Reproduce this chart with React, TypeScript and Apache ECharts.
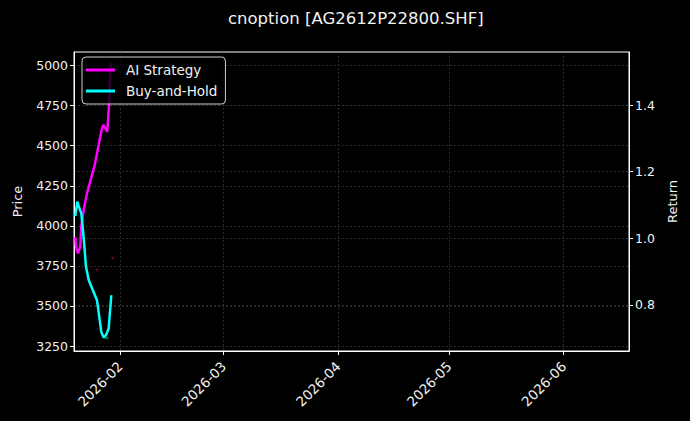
import React, { useEffect, useRef } from "react";
import * as echarts from "echarts";

const titleText = "cnoption [AG2612P22800.SHF]";

const aiDates = [
  "2026-01-19 21:50", "2026-01-20 02:30", "2026-01-20 15:30", "2026-01-21 06:00",
  "2026-01-21 12:45", "2026-01-22 04:20", "2026-01-23 02:00", "2026-01-25 04:00",
  "2026-01-26 05:45", "2026-01-26 22:30", "2026-01-27 11:30", "2026-01-28 13:40",
  "2026-01-29 02:40", "2026-01-29 11:45",
];
const aiValues = [1.004, 0.975, 0.955, 0.975, 1.035, 1.085, 1.135, 1.22, 1.281, 1.321, 1.341, 1.32, 1.416, 1.527];

const bhDates = [
  "2026-01-19 21:50", "2026-01-20 10:50", "2026-01-20 21:50", "2026-01-21 12:45",
  "2026-01-21 23:45", "2026-01-22 10:50", "2026-01-22 19:10", "2026-01-23 12:45",
  "2026-01-25 18:40", "2026-01-26 09:35", "2026-01-26 22:30", "2026-01-27 14:10",
  "2026-01-28 05:00", "2026-01-28 22:30", "2026-01-29 15:35",
];
const bhValues = [1.067, 1.11, 1.094, 1.075, 1.025, 0.965, 0.915, 0.875, 0.814, 0.764, 0.719, 0.702, 0.709, 0.729, 0.829];

const buyDates = ["2026-01-28 11:45"];
const buyPrices = [3300];
const sellDates = ["2026-01-25 18:40", "2026-01-30 00:45"];
const sellPrices = [3724, 3799];

const monthTicks = ["2026-02-01 00:00", "2026-03-01 00:00", "2026-04-01 00:00", "2026-05-01 00:00", "2026-06-01 00:00"];
const priceTicks = [3250, 3500, 3750, 4000, 4250, 4500, 4750, 5000];
const returnTicks = [0.8, 1.0, 1.2, 1.4];

const xMinDate = "2026-01-19 13:30";
const xMaxDate = "2026-06-18 16:00";
const priceMin = 3219;
const priceMax = 5085;
const returnMin = 0.6616;
const returnMax = 1.5595;

function ts(s: string): number {
  const [d, t] = s.split(" ");
  const [y, m, dd] = d.split("-").map(Number);
  const [hh, mi] = (t || "00:00").split(":").map(Number);
  return new Date(y, m - 1, dd, hh, mi).getTime();
}

function pad(n: number) {
  return n < 10 ? "0" + n : "" + n;
}

const FONT = "DejaVu Sans";
const TXT = "#f2f2f2";

export default function App() {
  const ref = useRef<HTMLDivElement>(null);
  useEffect(() => {
    if (!ref.current) return;
    const chart = echarts.init(ref.current, null, { renderer: "svg" });
    const gridLine = { show: true, lineStyle: { color: "#3c3c3c", type: [2, 2], width: 0.7 } };
    const monthValues = monthTicks.map(ts);
    chart.setOption({
      animation: false,
      backgroundColor: "#000000",
      textStyle: { fontFamily: FONT },
      title: {
        text: titleText,
        left: 223,
        top: 5,
        textStyle: { color: TXT, fontSize: 16.5, fontWeight: "normal", fontFamily: FONT },
      },
      legend: {
        orient: "vertical",
        left: 82,
        top: 57,
        padding: [6, 8, 6, 4],
        itemGap: 7,
        itemWidth: 29,
        itemHeight: 3,
        icon: "rect",
        backgroundColor: "rgba(0,0,0,0.8)",
        borderColor: "#cfcfcf",
        borderWidth: 1,
        borderRadius: 4,
        data: ["AI Strategy", "Buy-and-Hold"],
        textStyle: { color: TXT, fontSize: 13.5, fontFamily: FONT, padding: [0, 0, 0, 6] },
      },
      grid: {
        left: 74,
        right: 61,
        top: 52,
        bottom: 70,
        show: true,
        borderColor: "#ffffff",
        borderWidth: 1,
        backgroundColor: "transparent",
      },
      xAxis: {
        type: "value",
        min: ts(xMinDate),
        max: ts(xMaxDate),
        axisLine: { show: true, onZero: false, lineStyle: { color: "#ffffff", width: 1 } },
        axisTick: { show: true, length: 4, lineStyle: { color: "#ffffff" }, customValues: monthValues },
        axisLabel: {
          customValues: monthValues,
          rotate: 45,
          color: TXT,
          fontSize: 13.5,
          fontFamily: FONT,
          margin: 13,
          formatter: (v: number) => {
            const d = new Date(v);
            return d.getFullYear() + "-" + pad(d.getMonth() + 1);
          },
        },
        splitLine: gridLine,
      },
      yAxis: [
        {
          type: "value",
          min: priceMin,
          max: priceMax,
          name: "Price",
          nameLocation: "middle",
          nameGap: 50,
          nameTextStyle: { color: TXT, fontSize: 13, fontFamily: FONT },
          axisLine: { show: true, onZero: false, lineStyle: { color: "#ffffff" } },
          axisTick: { show: true, length: 4, lineStyle: { color: "#ffffff" }, customValues: priceTicks },
          axisLabel: {
            customValues: priceTicks,
            color: TXT,
            fontSize: 12.5,
            fontFamily: FONT,
            margin: 6,
            formatter: (v: number) => String(Math.round(v)),
          },
          splitLine: gridLine,
        },
        {
          type: "value",
          min: returnMin,
          max: returnMax,
          name: "Return",
          nameLocation: "middle",
          nameGap: 37,
          nameTextStyle: { color: TXT, fontSize: 13, fontFamily: FONT },
          axisLine: { show: true, onZero: false, lineStyle: { color: "#ffffff" } },
          axisTick: { show: true, length: 4, lineStyle: { color: "#ffffff" }, customValues: returnTicks },
          axisLabel: {
            customValues: returnTicks,
            color: TXT,
            fontSize: 12.5,
            fontFamily: FONT,
            margin: 6,
            formatter: (v: number) => v.toFixed(1),
          },
          splitLine: gridLine,
        },
      ],
      series: [
        {
          name: "Sell",
          type: "scatter",
          yAxisIndex: 0,
          symbolSize: 3,
          itemStyle: { color: "#7a0a0a" },
          data: sellDates.map((d, i) => [ts(d), sellPrices[i]]),
          z: 1,
        },
        {
          name: "Buy",
          type: "scatter",
          yAxisIndex: 0,
          symbolSize: 3,
          itemStyle: { color: "#1f8a1f" },
          data: buyDates.map((d, i) => [ts(d), buyPrices[i]]),
          z: 1,
        },
        {
          name: "AI Strategy",
          type: "line",
          yAxisIndex: 1,
          showSymbol: false,
          lineStyle: { color: "#ff00ff", width: 2.5 },
          itemStyle: { color: "#ff00ff" },
          data: aiDates.map((d, i) => [ts(d), aiValues[i]]),
          z: 3,
        },
        {
          name: "Buy-and-Hold",
          type: "line",
          yAxisIndex: 1,
          showSymbol: false,
          lineStyle: { color: "#00ffff", width: 2.5 },
          itemStyle: { color: "#00ffff" },
          data: bhDates.map((d, i) => [ts(d), bhValues[i]]),
          z: 4,
        },
      ],
    });
    return () => chart.dispose();
  }, []);
  return (
    <div
      ref={ref}
      style={{ position: "fixed", left: 0, top: 0, width: 690, height: 421, background: "#000" }}
    />
  );
}
